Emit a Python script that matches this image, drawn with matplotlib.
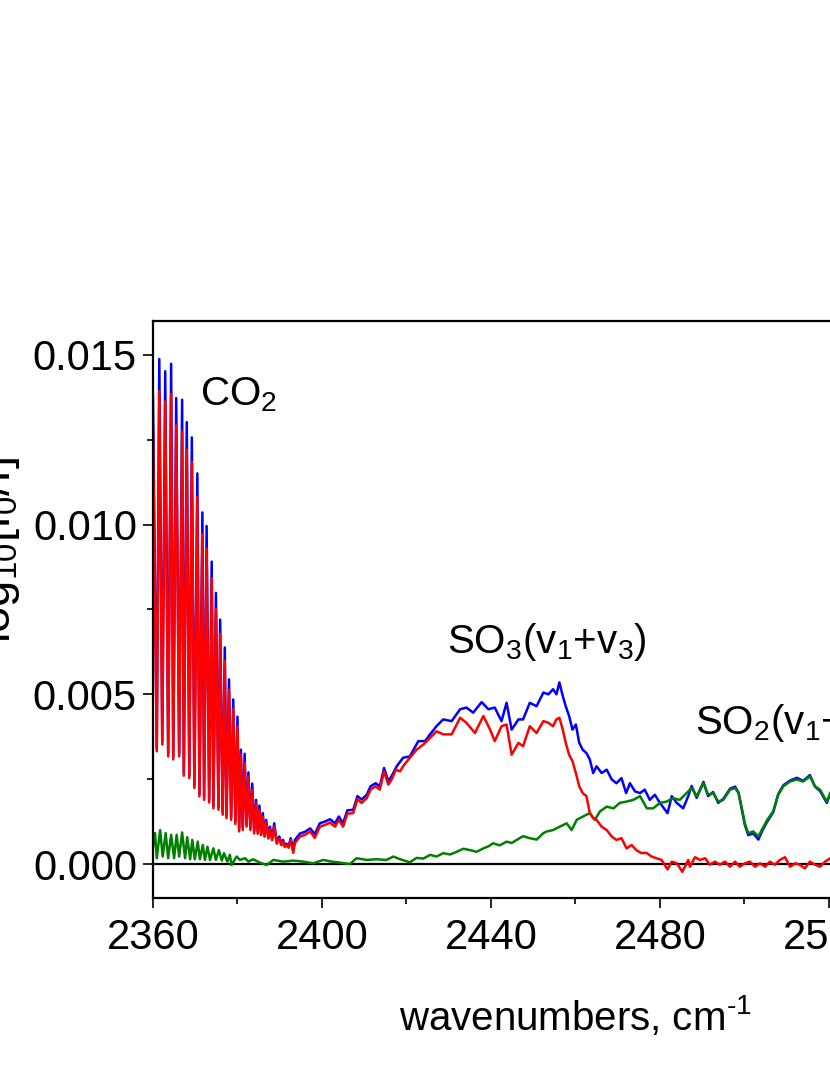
import numpy as np
import matplotlib as mpl
mpl.use('Agg')
import matplotlib.pyplot as plt
from matplotlib.ticker import MultipleLocator, FormatStrFormatter

plt.rcParams['font.family'] = ['Liberation Sans', 'DejaVu Sans']
plt.rcParams['mathtext.fontset'] = 'custom'
plt.rcParams['mathtext.rm'] = 'Liberation Sans'
plt.rcParams['mathtext.it'] = 'Liberation Sans'
plt.rcParams['mathtext.default'] = 'regular'

# blue spectrum
blue_wn = [2360.0, 2360.9, 2361.5, 2362.2, 2362.9, 2363.6, 2364.3, 2364.8, 2365.5, 2366.2,
           2366.9, 2367.3, 2368.0, 2368.6, 2369.2, 2369.8, 2370.5, 2371.0, 2371.7, 2372.1,
           2372.7, 2373.3, 2373.9, 2374.3, 2374.9, 2375.5, 2375.9, 2376.5, 2377.0, 2377.4,
           2378.0, 2378.5, 2379.0, 2379.5, 2380.0, 2380.4, 2380.8, 2381.25, 2381.7, 2382.15,
           2382.6, 2383.05, 2383.5, 2383.95, 2384.4, 2384.8, 2385.2, 2385.6, 2386.0, 2386.4,
           2386.8, 2387.3, 2387.7, 2388.2, 2388.7, 2389.3, 2389.9, 2390.4, 2390.8, 2391.2,
           2391.6, 2392.1, 2392.6, 2393.2, 2393.6, 2394.8, 2396.0, 2397.2, 2398.3, 2399.5,
           2400.7, 2401.9, 2403.1, 2404.0, 2405.0, 2406.0, 2407.4, 2408.4, 2409.4, 2410.6,
           2411.5, 2412.7, 2413.7, 2414.7, 2415.7, 2416.5, 2417.7, 2419.2, 2420.8, 2422.8,
           2424.4, 2425.6, 2427.1, 2428.7, 2430.7, 2432.7, 2434.2, 2435.8, 2437.8, 2439.4,
           2440.9, 2442.5, 2443.7, 2444.9, 2446.5, 2447.6, 2449.2, 2450.8, 2452.4, 2453.6,
           2454.7, 2455.5, 2456.2, 2457.0, 2457.7, 2458.5, 2459.3, 2460.1, 2460.9, 2461.7,
           2462.6, 2463.4, 2464.2, 2465.0, 2466.2, 2467.4, 2468.6, 2469.7, 2470.9, 2472.0,
           2472.9, 2474.1, 2475.3, 2476.4, 2477.6, 2478.8, 2480.0, 2481.8, 2482.8, 2484.0,
           2485.5, 2486.7, 2487.5, 2488.7, 2490.3, 2491.4, 2492.6, 2493.8, 2495.0, 2496.6,
           2497.8, 2498.6, 2499.3, 2500.1, 2500.9, 2502.1, 2503.3, 2504.3, 2505.4, 2506.8,
           2508.0, 2509.2, 2510.8, 2512.4, 2513.9, 2515.5, 2516.7, 2517.9, 2519.5, 2520.3]
blue_val = [0.0138, 0.0034, 0.01488, 0.0036, 0.01452, 0.00325, 0.01474, 0.00316, 0.01373, 0.00325,
            0.01368, 0.00268, 0.01302, 0.0026, 0.01257, 0.00232, 0.01151, 0.00206, 0.01036, 0.00196,
            0.00996, 0.00188, 0.00891, 0.00171, 0.00799, 0.00167, 0.0072, 0.00152, 0.00638, 0.00142,
            0.00544, 0.00137, 0.00485, 0.00125, 0.00434, 0.00103, 0.00337, 0.00107, 0.00325, 0.00117,
            0.0027, 0.00107, 0.00237, 0.00097, 0.00189, 0.00095, 0.00172, 0.0009, 0.0015, 0.00085,
            0.0013, 0.0008, 0.0011, 0.00075, 0.0012, 0.00065, 0.00081, 0.0006, 0.00071, 0.00055,
            0.0006, 0.00052, 0.00076, 0.00042, 0.00071, 0.0009, 0.00095, 0.00105, 0.00088, 0.0012,
            0.00125, 0.00132, 0.0012, 0.0014, 0.0012, 0.00158, 0.0016, 0.002, 0.0019, 0.00204,
            0.00229, 0.00238, 0.00229, 0.00283, 0.00244, 0.00259, 0.00288, 0.00313, 0.00317, 0.00362,
            0.00362, 0.00382, 0.00406, 0.00426, 0.00421, 0.00456, 0.00461, 0.00446, 0.00477, 0.00456,
            0.00461, 0.00421, 0.00475, 0.00396, 0.00426, 0.00426, 0.00475, 0.00465, 0.00505, 0.005,
            0.00515, 0.005, 0.00535, 0.00495, 0.00465, 0.00436, 0.00396, 0.00411, 0.00357, 0.00337,
            0.00327, 0.00308, 0.00268, 0.00288, 0.00268, 0.00278, 0.00249, 0.00238, 0.00253, 0.00209,
            0.00238, 0.00214, 0.00209, 0.00219, 0.00189, 0.00204, 0.0018, 0.0015, 0.002, 0.0018,
            0.00164, 0.002, 0.0023, 0.00195, 0.00242, 0.002, 0.00212, 0.0018, 0.00192, 0.00222,
            0.00228, 0.0021, 0.00165, 0.00115, 0.00085, 0.0009, 0.00072, 0.001, 0.00125, 0.00152,
            0.00206, 0.00232, 0.00246, 0.00254, 0.00245, 0.00262, 0.00228, 0.00215, 0.0018, 0.00206]

# red spectrum
red_wn = [2360.0, 2360.9, 2361.5, 2362.2, 2362.9, 2363.6, 2364.3, 2364.8, 2365.5, 2366.2,
          2366.9, 2367.3, 2368.0, 2368.6, 2369.2, 2369.8, 2370.5, 2371.0, 2371.7, 2372.1,
          2372.7, 2373.3, 2373.9, 2374.3, 2374.9, 2375.5, 2375.9, 2376.5, 2377.0, 2377.4,
          2378.0, 2378.5, 2379.0, 2379.5, 2380.0, 2380.4, 2380.8, 2381.25, 2381.7, 2382.15,
          2382.6, 2383.05, 2383.5, 2383.95, 2384.4, 2384.8, 2385.2, 2385.6, 2386.0, 2386.4,
          2386.8, 2387.3, 2387.7, 2388.2, 2388.7, 2389.3, 2389.9, 2390.4, 2390.8, 2391.2,
          2391.6, 2392.1, 2392.6, 2393.2, 2393.6, 2394.8, 2396.0, 2397.2, 2398.3, 2399.5,
          2400.7, 2401.9, 2403.1, 2404.0, 2405.0, 2406.0, 2407.4, 2408.4, 2409.4, 2410.6,
          2411.5, 2412.7, 2413.7, 2414.7, 2415.7, 2416.5, 2417.5, 2418.5, 2419.2, 2420.8,
          2422.4, 2424.0, 2425.6, 2427.1, 2428.7, 2430.7, 2432.7, 2434.2, 2436.2, 2438.2,
          2439.8, 2440.9, 2442.5, 2443.7, 2444.9, 2446.5, 2447.6, 2449.2, 2450.8, 2452.4,
          2453.6, 2454.7, 2455.5, 2456.2, 2457.0, 2457.7, 2458.5, 2459.3, 2460.1, 2460.9,
          2461.7, 2462.6, 2463.4, 2464.2, 2465.0, 2466.2, 2467.4, 2468.6, 2469.7, 2470.9,
          2472.1, 2473.3, 2474.4, 2475.6, 2476.8, 2478.0, 2479.2, 2480.4, 2481.8, 2482.8,
          2484.0, 2485.3, 2486.7, 2487.1, 2488.3, 2489.5, 2490.7, 2491.8, 2493.0, 2494.2,
          2495.4, 2496.6, 2497.8, 2498.9, 2500.1, 2501.3, 2502.5, 2503.7, 2504.9, 2506.0,
          2507.2, 2508.4, 2509.6, 2510.8, 2512.0, 2513.1, 2514.3, 2515.5, 2516.7, 2517.9,
          2519.1, 2520.3]
red_val = [0.0129, 0.00332, 0.01393, 0.00352, 0.01363, 0.00317, 0.01385, 0.00308, 0.01292, 0.00317,
           0.01274, 0.0026, 0.0122, 0.00253, 0.01185, 0.00224, 0.01082, 0.00199, 0.00973, 0.00189,
           0.00929, 0.00181, 0.00842, 0.00164, 0.00751, 0.0016, 0.00678, 0.00145, 0.00599, 0.00135,
           0.00513, 0.0013, 0.00456, 0.00118, 0.00406, 0.00096, 0.00322, 0.001, 0.00298, 0.0011,
           0.00258, 0.001, 0.00219, 0.0009, 0.0018, 0.00089, 0.0016, 0.00085, 0.0014, 0.0008,
           0.00122, 0.00075, 0.00102, 0.0007, 0.0011, 0.0006, 0.00075, 0.00055, 0.00066, 0.0005,
           0.00056, 0.00048, 0.0007, 0.00033, 0.00062, 0.00081, 0.00086, 0.00096, 0.00077, 0.0011,
           0.00115, 0.00122, 0.0011, 0.0013, 0.0011, 0.00148, 0.0015, 0.00191, 0.0018, 0.00194,
           0.00219, 0.00229, 0.00219, 0.00273, 0.00234, 0.00249, 0.00278, 0.00273, 0.00288, 0.00313,
           0.00337, 0.00352, 0.00372, 0.00391, 0.00382, 0.00382, 0.00431, 0.00416, 0.00386, 0.00436,
           0.00396, 0.00362, 0.00406, 0.00411, 0.00322, 0.00357, 0.00347, 0.00406, 0.00386, 0.00421,
           0.00416, 0.00406, 0.00426, 0.00431, 0.00396, 0.00357, 0.00322, 0.00303, 0.00268, 0.00229,
           0.00209, 0.002, 0.0015, 0.00135, 0.0013, 0.0011, 0.001, 0.00081, 0.00071, 0.00076,
           0.00046, 0.00056, 0.00041, 0.00032, 0.00033, 0.00022, 0.00017, 0.00012, -0.00016, 0.00007,
           0.00002, -0.00023, 0.00012, -0.00008, 0.0002, 0.00012, 0.00017, -0.00002, 0.00007, -0.00002,
           0.00007, -0.00008, 0.00007, -0.00008, 0.00002, 0.00007, -0.00008, 0.00002, -0.00008, 0.00007,
           -0.00002, 0.00012, 0.0002, -0.00008, 0.00002, -0.00002, -0.00013, 0.00007, -0.00002, -0.00008,
           0.00007, 0.00017]

# green spectrum
green_wn = [2360.0, 2360.5, 2360.9, 2361.7, 2362.3, 2363.0, 2363.6, 2364.3, 2365.0, 2365.6,
            2366.2, 2366.9, 2367.6, 2368.1, 2368.8, 2369.3, 2369.9, 2370.6, 2371.1, 2371.8,
            2372.3, 2372.9, 2373.5, 2374.3, 2374.9, 2375.6, 2376.3, 2376.8, 2377.6, 2378.2,
            2378.6, 2379.8, 2380.6, 2381.8, 2382.6, 2383.7, 2385.3, 2386.9, 2388.5, 2390.8,
            2393.2, 2395.6, 2397.9, 2400.3, 2402.3, 2404.3, 2406.6, 2408.2, 2410.6, 2412.9,
            2415.3, 2416.9, 2418.5, 2420.8, 2422.4, 2424.0, 2425.6, 2427.1, 2428.7, 2430.3,
            2431.9, 2433.5, 2435.0, 2436.6, 2438.2, 2439.4, 2440.5, 2442.1, 2443.7, 2444.9,
            2446.1, 2447.6, 2449.2, 2450.8, 2452.4, 2453.2, 2454.7, 2456.3, 2457.9, 2459.1,
            2460.3, 2461.8, 2463.4, 2464.6, 2465.8, 2467.4, 2469.0, 2470.5, 2472.1, 2473.7,
            2475.3, 2476.9, 2478.4, 2480.0, 2481.6, 2483.1, 2484.7, 2485.9, 2487.5, 2488.7,
            2490.3, 2491.4, 2492.6, 2493.8, 2495.0, 2496.6, 2497.8, 2498.6, 2499.3, 2500.1,
            2500.9, 2502.1, 2503.3, 2504.3, 2505.4, 2506.8, 2508.0, 2509.2, 2510.8, 2512.4,
            2513.9, 2515.5, 2516.7, 2517.9, 2519.5, 2520.3]
green_val = [0.0005, 0.00091, 0.00017, 0.001, 0.00022, 0.00091, 0.00017, 0.00086, 0.00017, 0.00086,
             0.00022, 0.00093, 0.00017, 0.00079, 0.00014, 0.00071, 0.00014, 0.00066, 0.00014, 0.00056,
             0.00012, 0.00051, 0.00012, 0.00046, 0.00012, 0.00041, 0.0001, 0.00032, 0.00007, 0.00027,
             -0.00003, 0.00022, 0.00012, 0.00017, 0.00007, 0.00014, 0.00004, -0.00003, 0.00012, 0.00007,
             0.0001, 0.00007, 0.00002, 0.00012, 0.00007, 0.00004, 0.0, 0.00017, 0.00012, 0.00014,
             0.00012, 0.00022, 0.00014, 0.00005, 0.00018, 0.00016, 0.00027, 0.00022, 0.00032, 0.00028,
             0.00036, 0.00045, 0.00041, 0.00036, 0.00046, 0.00052, 0.00061, 0.00055, 0.00066, 0.00062,
             0.00071, 0.00082, 0.00076, 0.00072, 0.00091, 0.00096, 0.001, 0.0011, 0.0012, 0.001,
             0.0013, 0.0014, 0.0015, 0.0013, 0.00155, 0.00169, 0.00164, 0.0018, 0.00184, 0.00189,
             0.002, 0.00164, 0.00164, 0.0018, 0.00184, 0.00194, 0.00189, 0.00204, 0.00224, 0.002,
             0.00238, 0.00204, 0.00209, 0.00184, 0.00189, 0.00219, 0.00224, 0.00209, 0.00169, 0.0012,
             0.00091, 0.00096, 0.00081, 0.00105, 0.0013, 0.00155, 0.00204, 0.00229, 0.00243, 0.00249,
             0.00243, 0.00258, 0.00229, 0.00219, 0.00184, 0.00209]

fig = plt.figure(figsize=(8.3, 10.75), dpi=100)
# the plot runs off the right edge of the picture, as in the reference
ax = fig.add_axes([0.1843, 0.1647, 1.018, 0.5367])

ax.axhline(0, color='black', linewidth=1.6, zorder=1)
ax.plot(blue_wn, blue_val, color='#0000ff', linewidth=1.8)
ax.plot(green_wn, green_val, color='#008000', linewidth=1.8)
ax.plot(red_wn, red_val, color='#ff0000', linewidth=1.8)

ax.set_xlim(2360, 2560)
ax.set_ylim(-0.001, 0.016)
ax.xaxis.set_major_locator(MultipleLocator(40))
ax.xaxis.set_minor_locator(MultipleLocator(20))
ax.yaxis.set_major_locator(MultipleLocator(0.005))
ax.yaxis.set_minor_locator(MultipleLocator(0.0025))
ax.yaxis.set_major_formatter(FormatStrFormatter('%.3f'))

for s in ax.spines.values():
    s.set_linewidth(1.6)
ax.tick_params(which='major', direction='out', length=7.5, width=1.2)
ax.tick_params(which='minor', direction='out', length=4.5, width=1.2)
ax.tick_params(axis='x', labelsize=30, pad=7)
ax.tick_params(axis='y', labelsize=30, pad=4)

ax.set_xlabel('wavenumbers, cm$^{\u2010 1}$', fontsize=29, labelpad=26)
fig.text(22 / 830, 1 - 550 / 1075, 'log$_{10}$[I$_0$/I]', rotation=90,
         fontsize=34, ha='right', va='center')

ax.text(2371.1, 0.01352, 'CO$_2$', fontsize=29, va='baseline')
ax.text(2429.6, 0.00621, 'SO$_3$(v$_1$+v$_3$)', fontsize=29, va='baseline')
ax.text(2488.3, 0.00382, 'SO$_2$(v$_1$+v$_3$)', fontsize=29, va='baseline')

fig.savefig('out.png', dpi=100)
